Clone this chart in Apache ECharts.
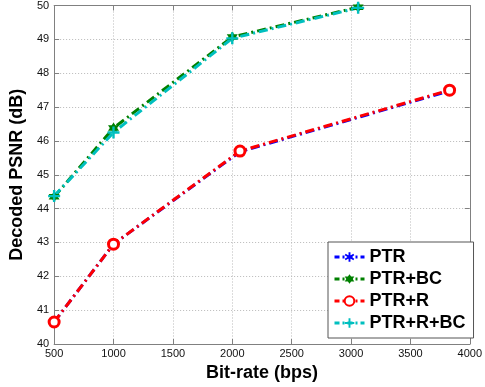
<!DOCTYPE html>
<html>
<head>
<meta charset="utf-8">
<script src="https://cdn.jsdelivr.net/npm/echarts@6/dist/echarts.min.js"></script>
<style>
  html, body { margin: 0; padding: 0; background: #fff; }
  #chart { width: 485px; height: 387px; }
</style>
</head>
<body>
<div id="chart"></div>
<script>
// values
var seriesNames = ['PTR', 'PTR+BC', 'PTR+R', 'PTR+R+BC'];
var ptr = [[500, 40.65], [1000, 42.95], [2065, 45.68], [3830, 47.48]];
var ptrBC = [[500, 44.35], [1000, 46.38], [2000, 49.07], [3060, 49.95]];
var ptrR = [[500, 40.65], [1000, 42.95], [2065, 45.70], [3830, 47.50]];
var ptrRBC = [[500, 44.37], [1000, 46.25], [2000, 49.03], [3060, 49.93]];
var xTicks = [500, 1000, 1500, 2000, 2500, 3000, 3500, 4000];
var yTicks = [40, 41, 42, 43, 44, 45, 46, 47, 48, 49, 50];

var chart = echarts.init(document.getElementById('chart'));

// marker shapes (matlab style)
var asterisk = 'path://M-1,-5L1,-5L1,-1.6L4,-3.4L5,-1.7L2,0L5,1.7L4,3.4L1,1.6L1,5L-1,5L-1,1.6L-4,3.4L-5,1.7L-2,0L-5,-1.7L-4,-3.4L-1,-1.6Z';
var hexagram = 'path://M0,-5L1.45,-2.5L4.33,-2.5L2.9,0L4.33,2.5L1.45,2.5L0,5L-1.45,2.5L-4.33,2.5L-2.9,0L-4.33,-2.5L-1.45,-2.5Z';
var plus = 'path://M-1,-5L1,-5L1,-1L5,-1L5,1L1,1L1,5L-1,5L-1,1L-5,1L-5,-1L-1,-1Z';
var dashDot = [9, 4, 2, 4];
var colors = ['#0000ff', '#008000', '#ff0000', '#00bfbf'];

function mkSeries(name, data, color, symbol, size, hollow) {
    return {
        name: name,
        type: 'line',
        data: data,
        symbol: symbol,
        symbolSize: size,
        showAllSymbol: true,
        lineStyle: { color: color, width: 3, type: dashDot },
        itemStyle: hollow ? { color: '#fff', borderColor: color, borderWidth: 3 } : { color: color, borderColor: color, borderWidth: 0 },
        animation: false
    };
}

var tickFont = { color: '#111', fontSize: 11, fontFamily: 'Liberation Sans, Arial, sans-serif' };
var nameFont = { color: '#000', fontSize: 18, fontWeight: 'bold', fontFamily: 'Liberation Sans, Arial, sans-serif' };
var edge = { show: true, lineStyle: { color: '#808080', width: 1 } };
var grid = { show: true, lineStyle: { color: '#b8b8b8', type: [1, 2] } };
var inTick = { show: true, inside: true, length: 5, lineStyle: { color: '#808080' } };
var plain = function (v) { return String(v); };

var option = {
    backgroundColor: '#fff',
    animation: false,
    grid: { left: 44, right: 10, top: 3, bottom: 43 },
    xAxis: [{
        type: 'value', min: xTicks[0], max: xTicks[xTicks.length - 1], interval: 500,
        name: 'Bit-rate (bps)', nameLocation: 'middle', nameGap: 20, nameTextStyle: nameFont,
        axisLine: edge, axisTick: inTick,
        axisLabel: Object.assign({ margin: 4, formatter: plain }, tickFont),
        splitLine: grid
    }, {
        type: 'value', position: 'top', min: xTicks[0], max: xTicks[xTicks.length - 1], interval: 500,
        axisLine: edge, axisTick: inTick,
        axisLabel: { show: false }, splitLine: { show: false }
    }],
    yAxis: [{
        type: 'value', min: yTicks[0], max: yTicks[yTicks.length - 1], interval: 1,
        name: 'Decoded PSNR (dB)', nameLocation: 'middle', nameGap: 25, nameTextStyle: nameFont,
        axisLine: edge, axisTick: inTick,
        axisLabel: Object.assign({ margin: 5, formatter: plain }, tickFont),
        splitLine: grid
    }, {
        type: 'value', position: 'right', min: yTicks[0], max: yTicks[yTicks.length - 1], interval: 1,
        axisLine: edge, axisTick: inTick,
        axisLabel: { show: false }, splitLine: { show: false }
    }],
    legend: {
        data: seriesNames.map(function (n, i) {
            return { name: n, lineStyle: { color: colors[i], width: 3, type: [5, 3, 2, 3] } };
        }),
        orient: 'vertical',
        left: 328, top: 242,
        padding: [6, 8, 6, 5],
        itemGap: 4,
        itemWidth: 30, itemHeight: 12,
        backgroundColor: '#fff',
        borderColor: '#555', borderWidth: 1,
        textStyle: nameFont
    },
    series: [
        mkSeries(seriesNames[0], ptr, colors[0], asterisk, 10, false),
        mkSeries(seriesNames[1], ptrBC, colors[1], hexagram, 11, false),
        mkSeries(seriesNames[2], ptrR, colors[2], 'circle', 10, true),
        mkSeries(seriesNames[3], ptrRBC, colors[3], plus, 12, false)
    ]
};
chart.setOption(option);
</script>
</body>
</html>
